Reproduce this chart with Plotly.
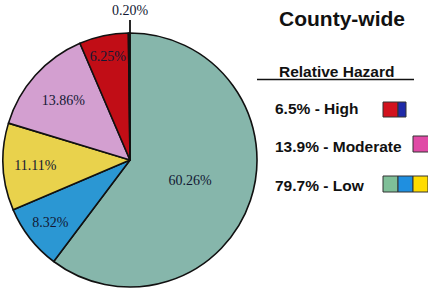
import plotly.graph_objects as go

slice_labels = ["Low (teal)", "Low (blue)", "Low (yellow)", "Moderate", "High (red)", "High (blue)"]
slice_values = [60.26, 8.32, 11.11, 13.86, 6.25, 0.20]
slice_colors = ["#86b6ab", "#2b97d3", "#e9d24c", "#d39fd0", "#c10d16", "#1c1f8a"]

legend_labels = ["6.5% - High", "13.9% - Moderate", "79.7% - Low"]
legend_swatches = [["#d2121e", "#1f2aa8"], ["#e04aa6"], ["#7fbf98", "#1f8fe0", "#ffdc00"]]

title_text = "County-wide"
legend_title = "Relative Hazard"

W, H = 428, 291
cx, cy, r = 130, 160, 127  # pie placement in pixels

fig = go.Figure()
fig.add_trace(go.Pie(
    labels=slice_labels,
    values=slice_values,
    sort=False,
    direction="clockwise",
    rotation=0,
    marker=dict(colors=slice_colors, line=dict(color="#111111", width=1.6)),
    texttemplate="%{value:.2f}%",
    textposition=["inside", "inside", "inside", "inside", "inside", "none"],
    insidetextorientation="horizontal",
    textfont=dict(family="Liberation Serif", size=14, color="#121833"),
    showlegend=False,
    hoverinfo="skip",
    domain=dict(x=[(cx - r) / W, (cx + r) / W], y=[1 - (cy + r) / H, 1 - (cy - r) / H]),
))

# label of the tiny slice, outside with a short leader line
fig.add_annotation(text=f"{slice_values[-1]:.2f}%", x=cx / W, y=1 - (cy - r) / H, xref="paper", yref="paper",
                   showarrow=True, arrowhead=0, arrowwidth=1.8, arrowcolor="#111111", ax=0, ay=-13,
                   font=dict(family="Liberation Serif", size=14, color="#121833"), yanchor="bottom")

fig.add_annotation(text="<b>" + title_text + "</b>", x=342/W, y=1-18/H, xref="paper", yref="paper",
                   showarrow=False, font=dict(family="Liberation Sans", size=21, color="#111111"),
                   xanchor="center", yanchor="middle")
fig.add_annotation(text="<b>" + legend_title + "</b>", x=336/W, y=1-71/H, xref="paper", yref="paper",
                   showarrow=False, font=dict(family="Liberation Sans", size=15.5, color="#111111"),
                   xanchor="center", yanchor="middle")
fig.add_shape(type="line", x0=257/W, x1=414/W, y0=1-79.5/H, y1=1-79.5/H, xref="paper", yref="paper",
              line=dict(color="#111111", width=1.3))

row_y = [108, 146, 185]
swatch_y = [(102, 117), (136, 152), (176, 192)]
swatch_x0 = [383, 413, 383]
swatch_w = [[15, 8], [16], [15, 15, 15]]
for lab, yy, (sy0, sy1), sw, x0, ws in zip(legend_labels, row_y, swatch_y, legend_swatches, swatch_x0, swatch_w):
    fig.add_annotation(text="<b>" + lab + "</b>", x=273/W, y=1-yy/H, xref="paper", yref="paper",
                       showarrow=False, font=dict(family="Liberation Sans", size=15.5, color="#111111"),
                       xanchor="left", yanchor="middle")
    xx = x0
    for c, w in zip(sw, ws):
        fig.add_shape(type="rect", x0=xx/W, x1=(xx+w)/W, y0=1-sy1/H, y1=1-sy0/H,
                      xref="paper", yref="paper", fillcolor=c, line=dict(color="#333333", width=1))
        xx += w

fig.update_layout(width=W, height=H, margin=dict(l=0, r=0, t=0, b=0),
                  paper_bgcolor="white", plot_bgcolor="white")
fig.write_html("out.html", config={"displayModeBar": False},
               post_script="document.body.style.margin='0px';")
